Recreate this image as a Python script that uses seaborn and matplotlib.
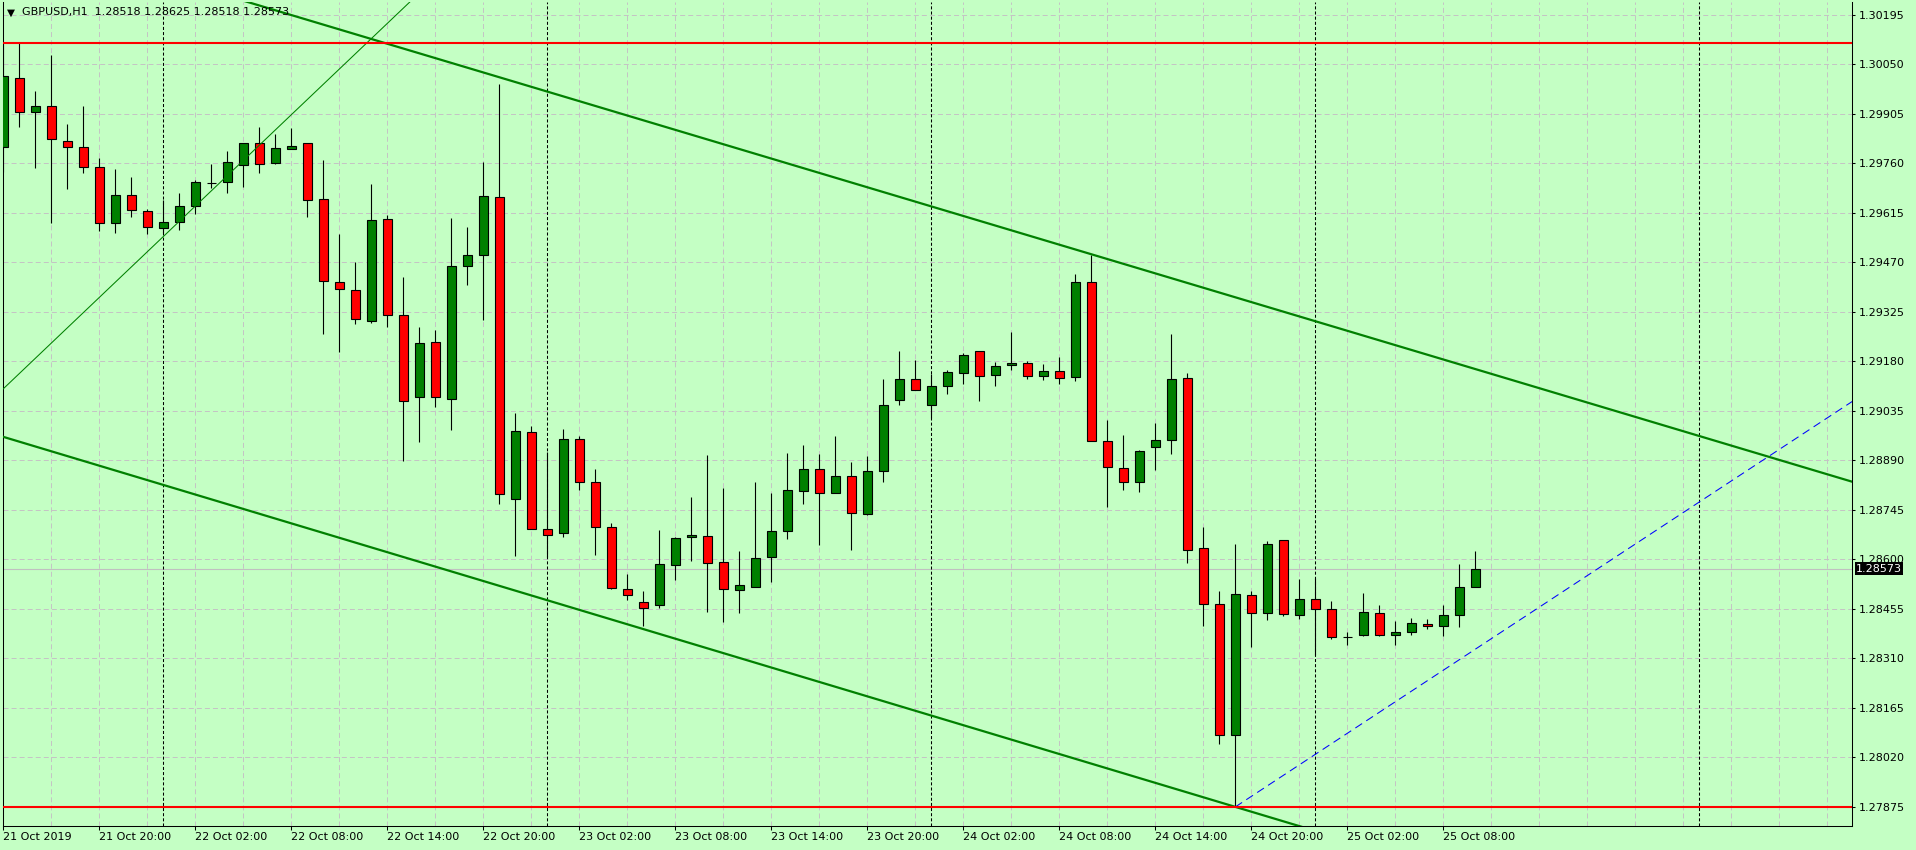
import numpy as np
import pandas as pd
import matplotlib
matplotlib.use("Agg")
import matplotlib.pyplot as plt
import seaborn as sns

# GBPUSD H1 bars, 21 Oct 2019 14:00 -> 25 Oct 2019 10:00
bar_time = pd.date_range("2019-10-21 14:00", periods=93, freq="h")

open_ = [1.29808, 1.30010, 1.29910, 1.29928, 1.29825, 1.29808, 1.29749, 1.29585, 1.29667, 1.29620,
         1.29570, 1.29588, 1.29635, 1.29703, 1.29705, 1.29755, 1.29819, 1.29761, 1.29802, 1.29819,
         1.29655, 1.29412, 1.29389, 1.29298, 1.29597, 1.29315, 1.29075, 1.29236, 1.29069, 1.29459,
         1.29491, 1.29661, 1.28776, 1.28973, 1.28689, 1.28677, 1.28952, 1.28826, 1.28694, 1.28513,
         1.28475, 1.28466, 1.28583, 1.28665, 1.28668, 1.28592, 1.28510, 1.28519, 1.28607, 1.28683,
         1.28800, 1.28864, 1.28794, 1.28844, 1.28733, 1.28858, 1.29066, 1.29128, 1.29052, 1.29107,
         1.29146, 1.29210, 1.29140, 1.29169, 1.29175, 1.29137, 1.29151, 1.29134, 1.29412, 1.28946,
         1.28867, 1.28826, 1.28929, 1.28949, 1.29131, 1.28633, 1.28469, 1.28085, 1.28495, 1.28443,
         1.28656, 1.28437, 1.28484, 1.28454, 1.28372, 1.28378, 1.28443, 1.28378, 1.28387, 1.28410,
         1.28405, 1.28437, 1.28518]
high = [1.30110, 1.30114, 1.29972, 1.30078, 1.29876, 1.29928, 1.29775, 1.29744, 1.29720, 1.29626,
        1.29652, 1.29673, 1.29711, 1.29758, 1.29797, 1.29819, 1.29866, 1.29846, 1.29863, 1.29819,
        1.29770, 1.29553, 1.29471, 1.29699, 1.29608, 1.29427, 1.29280, 1.29272, 1.29600, 1.29573,
        1.29764, 1.29992, 1.29029, 1.28990, 1.28914, 1.28981, 1.28961, 1.28864, 1.28706, 1.28557,
        1.28507, 1.28686, 1.28665, 1.28782, 1.28905, 1.28809, 1.28624, 1.28826, 1.28794, 1.28911,
        1.28935, 1.28908, 1.28961, 1.28885, 1.28902, 1.29128, 1.29210, 1.29184, 1.29143, 1.29154,
        1.29204, 1.29210, 1.29178, 1.29266, 1.29181, 1.29172, 1.29192, 1.29436, 1.29492, 1.29008,
        1.28964, 1.28920, 1.28999, 1.29260, 1.29146, 1.28695, 1.28508, 1.28646, 1.28508, 1.28653,
        1.28656, 1.28543, 1.28545, 1.28479, 1.28387, 1.28501, 1.28466, 1.28420, 1.28428, 1.28425,
        1.28466, 1.28586, 1.28625]
low = [1.29736, 1.29868, 1.29748, 1.29585, 1.29686, 1.29731, 1.29563, 1.29557, 1.29604, 1.29553,
       1.29556, 1.29566, 1.29613, 1.29687, 1.29672, 1.29692, 1.29733, 1.29758, 1.29802, 1.29602,
       1.29260, 1.29209, 1.29289, 1.29292, 1.29280, 1.28889, 1.28943, 1.29046, 1.28979, 1.29403,
       1.29301, 1.28762, 1.28611, 1.28689, 1.28608, 1.28665, 1.28802, 1.28614, 1.28513, 1.28481,
       1.28405, 1.28457, 1.28539, 1.28595, 1.28446, 1.28416, 1.28443, 1.28519, 1.28533, 1.28659,
       1.28762, 1.28642, 1.28794, 1.28627, 1.28730, 1.28826, 1.29052, 1.29096, 1.29014, 1.29084,
       1.29113, 1.29064, 1.29107, 1.29154, 1.29128, 1.29125, 1.29113, 1.29122, 1.28946, 1.28753,
       1.28803, 1.28797, 1.28861, 1.28908, 1.28589, 1.28406, 1.28059, 1.27875, 1.28343, 1.28422,
       1.28434, 1.28425, 1.28320, 1.28366, 1.28349, 1.28375, 1.28375, 1.28349, 1.28378, 1.28396,
       1.28375, 1.28402, 1.28518]
close = [1.30016, 1.29910, 1.29928, 1.29831, 1.29808, 1.29749, 1.29585, 1.29667, 1.29623, 1.29573,
         1.29588, 1.29635, 1.29705, 1.29703, 1.29764, 1.29819, 1.29758, 1.29805, 1.29810, 1.29652,
         1.29415, 1.29392, 1.29304, 1.29594, 1.29315, 1.29064, 1.29233, 1.29075, 1.29459, 1.29491,
         1.29664, 1.28791, 1.28976, 1.28689, 1.28671, 1.28952, 1.28826, 1.28694, 1.28516, 1.28495,
         1.28457, 1.28586, 1.28662, 1.28671, 1.28589, 1.28513, 1.28525, 1.28604, 1.28683, 1.28803,
         1.28864, 1.28794, 1.28844, 1.28735, 1.28858, 1.29052, 1.29128, 1.29096, 1.29107, 1.29148,
         1.29198, 1.29137, 1.29166, 1.29175, 1.29137, 1.29151, 1.29131, 1.29412, 1.28946, 1.28870,
         1.28826, 1.28917, 1.28949, 1.29128, 1.28627, 1.28469, 1.28085, 1.28498, 1.28443, 1.28645,
         1.28440, 1.28484, 1.28454, 1.28372, 1.28372, 1.28446, 1.28378, 1.28387, 1.28413, 1.28405,
         1.28437, 1.28519, 1.28573]

price_ticks = [1.27875, 1.28020, 1.28165, 1.28310, 1.28455, 1.28600, 1.28745, 1.28890, 1.29035,
               1.29180, 1.29325, 1.29470, 1.29615, 1.29760, 1.29905, 1.30050, 1.30195]
time_tick_bars = [0, 6, 12, 18, 24, 30, 36, 42, 48, 54, 60, 66, 72, 78, 84, 90]
time_tick_labels = ["21 Oct 2019", "21 Oct 20:00", "22 Oct 02:00", "22 Oct 08:00", "22 Oct 14:00",
                    "22 Oct 20:00", "23 Oct 02:00", "23 Oct 08:00", "23 Oct 14:00", "23 Oct 20:00",
                    "24 Oct 02:00", "24 Oct 08:00", "24 Oct 14:00", "24 Oct 20:00", "25 Oct 02:00",
                    "25 Oct 08:00"]
day_separators = [10, 34, 58, 82, 106]

# drawn objects: (bar, price) anchor pairs
red_levels = [1.30114, 1.27875]
channel_top = [(0, 1.30447), (68, 1.29494)]
channel_bottom = [(0, 1.28959), (77, 1.27875)]
support_thin = [(0, 1.29100), (25, 1.30215)]
blue_ray = [(77, 1.27875), (115.5, 1.29061)]
bid = 1.28573
header = "GBPUSD,H1  1.28518 1.28625 1.28518 1.28573"

BG = "#c4ffc4"
W, H = 1916, 850
X_MIN, X_MAX = -0.04, 115.54
Y_MIN, Y_MAX = 1.27819, 1.30233

sns.set_theme(style="ticks", rc={
    "axes.facecolor": BG, "figure.facecolor": BG, "axes.edgecolor": "black",
    "axes.linewidth": 0.75, "lines.scale_dashes": False,
    "xtick.color": "black", "ytick.color": "black",
})
plt.rcParams["font.family"] = ["DejaVu Sans"]

df = pd.DataFrame({"time": bar_time, "open": open_, "high": high, "low": low, "close": close})
df["bar"] = np.arange(len(df))

fig = plt.figure(figsize=(W / 100, H / 100), dpi=100)
ax = fig.add_axes([2.7 / W, 24 / H, 1849.3 / W, 824 / H])


def extend(pts, x0, x1):
    (xa, ya), (xb, yb) = pts
    k = (yb - ya) / (xb - xa)
    return [x0, x1], [ya + k * (x0 - xa), ya + k * (x1 - xa)]


# candles
body_col = np.where(df["close"] > df["open"], "#008000",
                    np.where(df["close"] < df["open"], "#ff0000", "black"))
ax.vlines(df["bar"], df["low"], df["high"], color="black", lw=0.8, zorder=2)
ax.bar(df["bar"], df["close"] - df["open"], bottom=df["open"], width=0.58,
       color=body_col, edgecolor="black", linewidth=0.8, zorder=3)

# bid line
ax.axhline(bid, color="#c0c0c0", lw=0.8, zorder=1)

# trend lines
xs, ys = extend(channel_top, -1, 117)
sns.lineplot(x=xs, y=ys, ax=ax, color="#008000", lw=1.6, zorder=4)
xs, ys = extend(channel_bottom, -1, 117)
sns.lineplot(x=xs, y=ys, ax=ax, color="#008000", lw=1.6, zorder=4)
xs, ys = extend(support_thin, -1, 117)
sns.lineplot(x=xs, y=ys, ax=ax, color="#008000", lw=0.75, zorder=4)
xs, ys = extend(blue_ray, blue_ray[0][0], 117)
sns.lineplot(x=xs, y=ys, ax=ax, color="#0000ff", lw=0.75, linestyle=(0, (5.8, 3.6)), zorder=4)
for lvl in red_levels:
    ax.axhline(lvl, color="#ff0000", lw=1.5, zorder=4)

for d in day_separators:
    ax.axvline(d, color="black", lw=0.75, linestyle=(0, (2.2, 1.5)), zorder=1)

ax.set_xlim(X_MIN, X_MAX)
ax.set_ylim(Y_MIN, Y_MAX)

# axes / grid
ax.set_xticks(time_tick_bars)
ax.set_xticklabels(time_tick_labels)
ax.set_xticks(range(0, 116, 3), minor=True)
ax.set_yticks(price_ticks)
ax.set_yticklabels([f"{p:.5f}" for p in price_ticks])
ax.yaxis.tick_right()
ax.tick_params(axis="x", which="major", length=3, width=0.75, pad=1.5, labelsize=8)
ax.tick_params(axis="x", which="minor", length=0)
ax.tick_params(axis="y", length=2.2, width=0.75, pad=2.5, labelsize=8)
for lab in ax.get_xticklabels():
    lab.set_ha("left")
grid_kw = dict(color="#c4c4c4", lw=0.72, linestyle=(0, (3.6, 2.2)))
ax.grid(axis="x", which="both", **grid_kw)
ax.grid(axis="y", which="major", **grid_kw)
ax.set_axisbelow(True)
ax.set_xlabel("")
ax.set_ylabel("")
for s in ["left", "right", "bottom"]:
    ax.spines[s].set_visible(True)
ax.spines["top"].set_visible(False)

# bid price label on the axis
ax.annotate(f"{bid:.5f}", xy=(1, bid), xycoords=("axes fraction", "data"),
            xytext=(3.0, 0), textcoords="offset points", ha="left", va="center",
            fontsize=8, color="white", annotation_clip=False, zorder=10,
            bbox=dict(boxstyle="square,pad=0.12", facecolor="black", edgecolor="none"))

# header
fig.text(10.5 / W, 1 - 12.5 / H, "\u25bc", fontsize=7.5, ha="center", va="center", color="black")
fig.text(21.5 / W, 1 - 12 / H, header, fontsize=8, ha="left", va="center", color="black")

fig.savefig("out.png", dpi=100, facecolor=BG)
